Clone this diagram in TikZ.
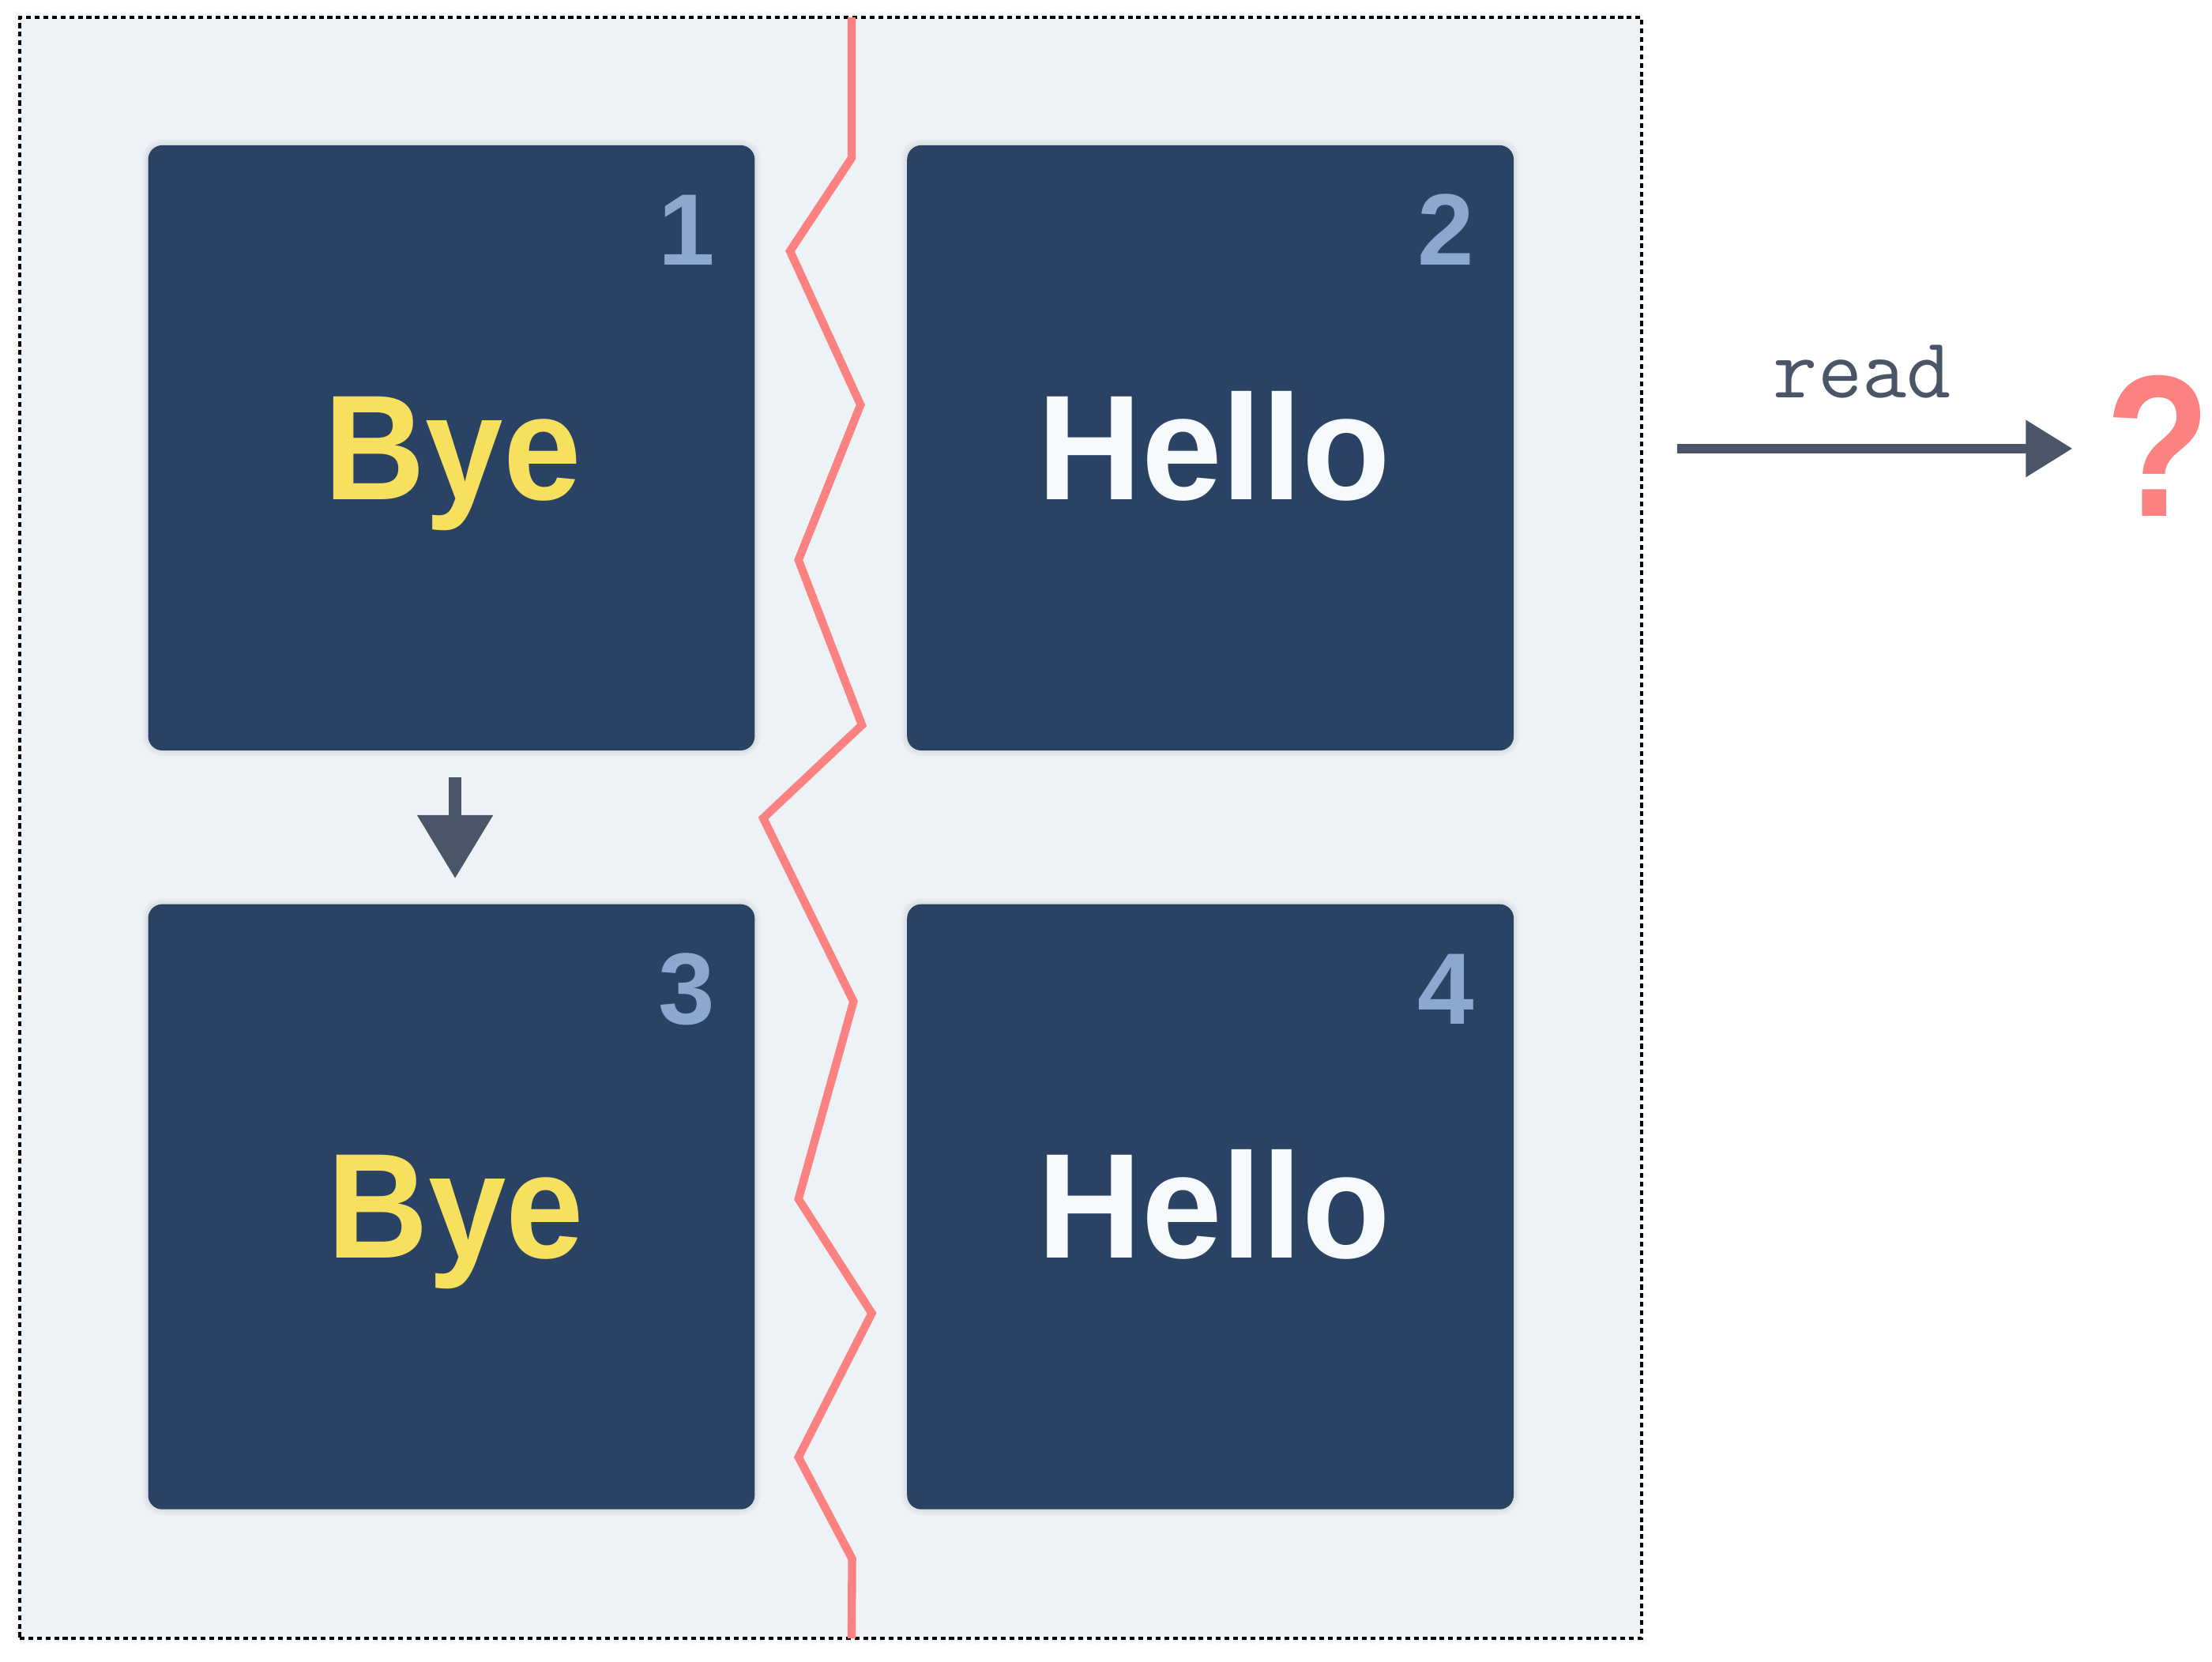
\documentclass[tikz,border=0pt]{standalone}
\usepackage{fontspec}
\usetikzlibrary{arrows.meta,calc}
\newfontfamily\byefont{Liberation Sans}[FakeStretch=0.935]
\newfontfamily\hellofont{Liberation Sans}[FakeStretch=0.965]
\newfontfamily\lsans{Liberation Sans}
\newfontfamily\qfont{Liberation Sans}[FakeStretch=0.85]
\definecolor{bgpanel}{HTML}{EDF2F7}
\definecolor{navy}{HTML}{2A4365}
\definecolor{byey}{HTML}{F6E05E}
\definecolor{hellow}{HTML}{F7FAFC}
\definecolor{numc}{HTML}{8CA8CE}
\definecolor{zigred}{HTML}{FC8181}
\definecolor{arrowg}{HTML}{4A5568}
\begin{document}
\begin{tikzpicture}[x=1pt,y=-1pt,
  halo/.style={preaction={draw=black,draw opacity=0.03,line width=8pt},
               preaction={draw=black,draw opacity=0.03,line width=4pt}},
  frame/.style={draw=black,fill=bgpanel,line width=2.2pt,dash pattern=on 3.4pt off 2.7pt,
                minimum width=1149.6pt,minimum height=1149.2pt,inner sep=0pt,halo},
  card/.style={fill=navy,rounded corners=10pt,minimum width=430pt,minimum height=429pt,
               inner sep=0pt,halo},
  byeword/.style={font=\byefont\bfseries\fontsize{106}{110}\selectfont,inner sep=0pt,anchor=base,text=byey},
  helloword/.style={font=\hellofont\bfseries\fontsize{106}{110}\selectfont,inner sep=0pt,anchor=base,text=hellow},
  num/.style={font=\lsans\bfseries\fontsize{72}{76}\selectfont,text=numc,inner sep=0pt,anchor=base east},
  zig/.style={draw=zigred,line width=5.8pt},
  downarr/.style={draw=arrowg,line width=9pt,-{Triangle[length=45pt,width=51.5pt]}},
  readarr/.style={draw=arrowg,line width=6.4pt,-{Triangle[length=33pt,width=39pt]}},
  readlbl/.style={font=\ttfamily\fontsize{61}{64}\selectfont,text=arrowg,inner sep=0pt,anchor=base},
  qmark/.style={font=\qfont\bfseries\fontsize{143}{146}\selectfont,text=zigred,inner sep=0pt,anchor=base}
]
\useasboundingbox (0,0) rectangle (1568,1178.2);
\fill[white] (0,0) rectangle (1568,1178.2);

\node[frame] (frame) at (588.8,586.9) {};

% red zigzag split line
\draw[zig] (603.7,12.3) -- (603.7,112) -- (560,178) -- (610,287) -- (566,397)
  -- (611,514) -- (541,580) -- (605,710) -- (566,850) -- (618,931)
  -- (566,1033) -- (604,1105) -- (603.7,1161.5);

% cards
\node[card] (b1) at (320,317.5) {};
\node[card] (b2) at (858,317.5) {};
\node[card] (b3) at (320,855.5) {};
\node[card] (b4) at (858,855.5) {};

% numbers
\node[num] (n1) at ($(b1.north east)+(-28,85)$) {1};
\node[num] (n2) at ($(b2.north east)+(-28,85)$) {2};
\node[num] (n3) at ($(b3.north east)+(-28,85)$) {3};
\node[num] (n4) at ($(b4.north east)+(-28,85)$) {4};

% words
\node[byeword] (w1) at ($(b1.center)+(1,36.5)$) {Bye};
\node[helloword] (w2) at ($(b2.center)+(2.5,36.5)$) {Hello};
\node[byeword] (w3) at ($(b3.center)+(3,36.5)$) {Bye};
\node[helloword] (w4) at ($(b4.center)+(2.5,36.5)$) {Hello};

% copy arrow
\draw[downarr,shorten <=19pt,shorten >=18pt] ($(b1.south)+(2.6,0)$) -- ($(b3.north)+(2.6,0)$);

% read arrow
\coordinate (rs) at (1189,318);
\coordinate (re) at (1469,318);
\draw[readarr] (rs) -- (re);
\node[readlbl] (rl) at (1320,282) {read};
\node[qmark] (q) at (1530,365.8) {?};
\end{tikzpicture}
\end{document}
